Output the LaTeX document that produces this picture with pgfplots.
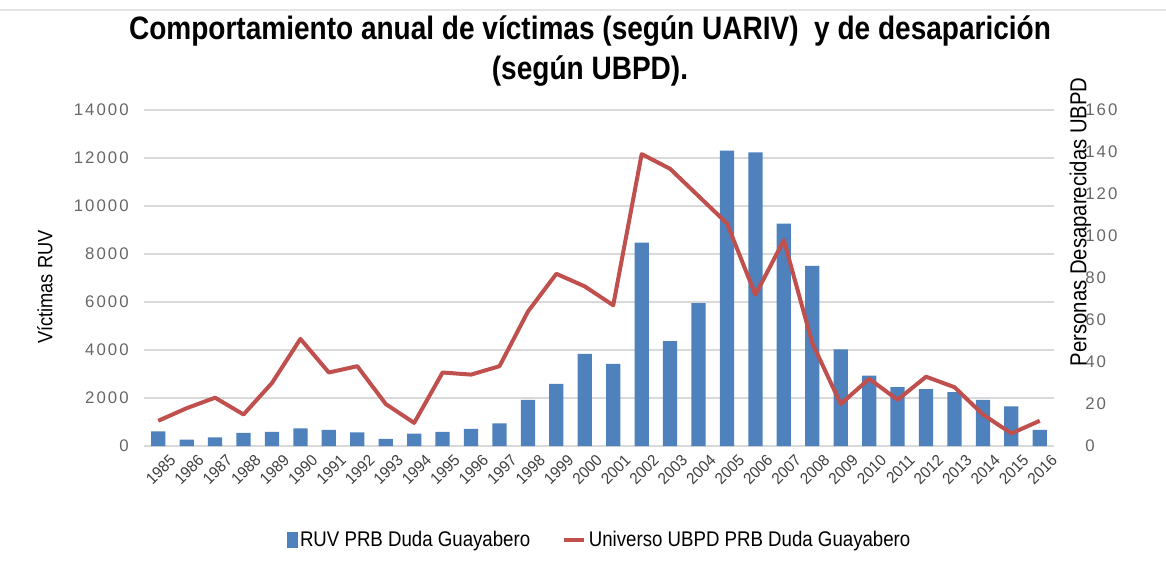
\documentclass[border=0pt]{standalone}
\usepackage{fontspec}
\setmainfont{Liberation Sans}[FakeStretch=0.88]
\newfontfamily\titlefont{Liberation Sans Bold}[FakeStretch=0.865]
\newfontfamily\tickfont{Liberation Sans}[LetterSpace=12]
\newfontfamily\yearfont{Liberation Sans}[FakeStretch=0.95]
\usepackage{pgfplots}
\usepackage{pgfplotstable}
\pgfplotsset{compat=1.18}

\definecolor{barblue}{HTML}{4F81BD}
\definecolor{linered}{HTML}{C0504D}
\definecolor{tickgray}{HTML}{666666}
\definecolor{gridgray}{HTML}{D9D9D9}

% victimas RUV (eje izq.) y personas desaparecidas UBPD (eje der.)
\pgfplotstableread{
x year ruv ubpd
0 1985 612 12
1 1986 264 18
2 1987 362 23
3 1988 543 15
4 1989 585 30
5 1990 738 51
6 1991 668 35
7 1992 571 38
8 1993 292 20
9 1994 515 11
10 1995 585 35
11 1996 710 34
12 1997 946 38
13 1998 1921 64
14 1999 2589 82
15 2000 3841 76
16 2001 3424 67
17 2002 8476 139
18 2003 4370 132
19 2004 5957 119
20 2005 12303 106
21 2006 12234 72
22 2007 9269 98
23 2008 7502 49
24 2009 4022 20
25 2010 2937 32
26 2011 2450 22
27 2012 2366 33
28 2013 2241 28
29 2014 1921 15
30 2015 1656 6
31 2016 668 12
}\datatable

\pgfplotsset{
  common/.style={
    width=682.5pt, height=252pt, scale only axis,
    xmin=-0.5, xmax=31.5,
    ymin=0,
    axis line style={draw=none},
    major tick length=0pt,
    /pgf/number format/assume math mode=true,
    /pgf/number format/set thousands separator={},
    scaled y ticks=false,
  }
}

\begin{document}
\begin{tikzpicture}
\begin{axis}[common, name=ax,
    ymax=14000, ytick={0,2000,...,14000},
    ymajorgrids, grid style={gridgray, line width=1.2pt},
    xtick={0,...,31},
    xticklabels from table={\datatable}{year},
    x tick label style={rotate=45, anchor=north east, inner sep=0.5pt,
      font=\yearfont\fontsize{12}{13}\selectfont, text=black!75, yshift=-9pt, xshift=2pt},
    y tick label style={font=\tickfont\fontsize{12.6}{14}\selectfont, text=tickgray, xshift=-8pt},
    ylabel={Víctimas RUV},
    ylabel style={at={(axis description cs:-0.109,0.473)}, anchor=center,
      font=\fontsize{15.5}{18}\selectfont},
]
\addplot[ybar, bar width=0.5, fill=barblue, draw=none] table[x=x, y=ruv] {\datatable};
\end{axis}

\begin{axis}[common,
    ymax=160, ytick={0,20,...,160},
    axis y line*=right, axis x line=none,
    y tick label style={font=\tickfont\fontsize{12.6}{14}\selectfont, text=tickgray, xshift=20pt},
    yticklabel style={anchor=west},
    ylabel={Personas Desaparecidas UBPD},
    ylabel style={at={(axis description cs:1.029,0.667)}, anchor=center,
      font=\fontsize{17.3}{20}\selectfont},
    legend style={at={(axis description cs:0.501,-0.28)}, anchor=center, draw=none,
      legend columns=2, font=\fontsize{15.9}{18}\selectfont,
      /tikz/every even column/.append style={column sep=22pt}},
]
\addlegendimage{legend image code/.code={\fill[barblue] (0pt,-5.5pt) rectangle (7.5pt,5.5pt);}}
\addlegendentry{RUV PRB Duda Guayabero}
\addplot[linered, line width=3pt, line join=round,
  legend image code/.code={\draw[linered, line width=3pt] (0pt,0pt) -- (15pt,0pt);}]
  table[x=x, y=ubpd] {\datatable};
\addlegendentry{Universo UBPD PRB Duda Guayabero}
\end{axis}

\node[font=\titlefont\fontsize{24.3}{29}\selectfont, anchor=center]
  at ([shift={(334.5pt,311pt)}]ax.south west) {Comportamiento anual de víctimas (según UARIV)~ y de desaparición};
\node[font=\titlefont\fontsize{24.3}{29}\selectfont, anchor=center]
  at ([shift={(334.5pt,281pt)}]ax.south west) {(según UBPD).};
\draw[gridgray!70, line width=1pt] ([shift={(-108pt,327pt)}]ax.south west) -- +(874.5pt,0);

\pgfresetboundingbox
\path[use as bounding box] ([shift={(-108pt,-90.75pt)}]ax.south west) rectangle +(874.5pt,425.25pt);
\end{tikzpicture}
\end{document}
